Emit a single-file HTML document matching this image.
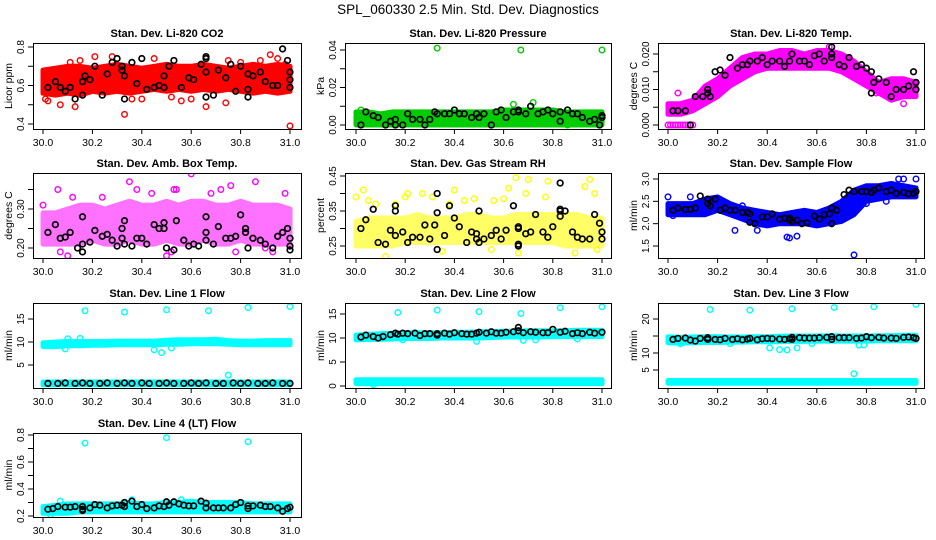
<!DOCTYPE html>
<html><head><meta charset="utf-8"><style>
html,body{margin:0;padding:0;background:#fff}
svg{display:block;font-family:"Liberation Sans",sans-serif}
</style></head><body>
<svg id="chart" width="936" height="540" viewBox="0 0 936 540" xmlns="http://www.w3.org/2000/svg">
<rect width="936" height="540" fill="#fff"/>
<text x="468" y="14" text-anchor="middle" font-size="13.5">SPL_060330  2.5 Min. Std. Dev. Diagnostics</text>
</svg>
<script>
// shared x categories (day of year bins)
const binX=[30.0,30.05,30.1,30.15,30.2,30.25,30.3,30.35,30.4,30.45,30.5,30.55,30.6,30.65,30.7,30.75,30.8,30.85,30.9,30.95,31.0];
const xTicks=[30.0,30.2,30.4,30.6,30.8,31.0];
const xTickLabels=["30.0","30.2","30.4","30.6","30.8","31.0"];

// Panel 1 CO2
const p1Lo=[0.56,0.55,0.56,0.55,0.57,0.56,0.57,0.56,0.57,0.58,0.57,0.58,0.57,0.58,0.57,0.58,0.57,0.56,0.57,0.56,0.57];
const p1Hi=[0.68,0.69,0.70,0.70,0.69,0.70,0.71,0.70,0.69,0.70,0.71,0.70,0.70,0.71,0.70,0.69,0.70,0.71,0.70,0.71,0.70];
const p1OutX=[30.13,30.07,30.33,31.0,30.28,30.75,30.92,30.95,30.74,30.15,30.45,30.21,30.02,30.56,30.88,30.66,30.01,30.98,30.40,30.6,30.11,30.36,30.52,30.8];
const p1OutY=[0.49,0.50,0.45,0.39,0.75,0.73,0.76,0.74,0.51,0.73,0.74,0.75,0.52,0.52,0.73,0.49,0.53,0.71,0.53,0.53,0.72,0.53,0.54,0.72];
const p1BkX=[30.02,30.05,30.07,30.09,30.11,30.13,30.16,30.16,30.17,30.19,30.21,30.24,30.26,30.28,30.30,30.32,30.32,30.33,30.33,30.36,30.38,30.40,30.42,30.45,30.47,30.49,30.49,30.51,30.53,30.56,30.59,30.61,30.64,30.66,30.66,30.66,30.66,30.69,30.71,30.74,30.76,30.78,30.80,30.83,30.83,30.83,30.85,30.88,30.90,30.93,30.95,30.97,30.99,31.0,31.0,31.0];
const p1BkY=[0.59,0.62,0.59,0.57,0.59,0.53,0.55,0.62,0.65,0.63,0.70,0.55,0.66,0.72,0.74,0.70,0.68,0.53,0.65,0.72,0.61,0.74,0.58,0.59,0.60,0.65,0.59,0.70,0.73,0.59,0.64,0.63,0.71,0.75,0.74,0.67,0.54,0.55,0.68,0.64,0.71,0.57,0.70,0.54,0.66,0.58,0.65,0.67,0.62,0.60,0.60,0.79,0.73,0.67,0.63,0.59];

// Panel 2 Pressure
const p2Lo=[0,0,0,0,0,0,0,0,0,0,0,0,0,0,0,0,0,0,0,0,0];
const p2Hi=[0.007,0.007,0.006,0.007,0.007,0.007,0.007,0.007,0.007,0.007,0.007,0.007,0.008,0.008,0.008,0.008,0.008,0.007,0.007,0.007,0.007];
const p2OutX=[30.33,30.67,31.0,30.72,30.64,30.86,30.68,30.02];
const p2OutY=[0.041,0.040,0.040,0.012,0.011,0.0,0.002,0.008];
const p2BkX=[30.02,30.04,30.07,30.09,30.12,30.14,30.16,30.16,30.19,30.21,30.23,30.26,30.28,30.30,30.32,30.33,30.36,30.38,30.40,30.42,30.44,30.47,30.49,30.50,30.52,30.55,30.57,30.59,30.61,30.64,30.66,30.66,30.69,30.71,30.74,30.76,30.78,30.80,30.83,30.83,30.86,30.88,30.90,30.92,30.95,30.97,30.99,31.0,31.0];
const p2BkY=[0.0,0.007,0.005,0.004,0.0,0.002,0.003,0.0,0.0,0.006,0.003,0.003,0.0,0.003,0.007,0.006,0.006,0.006,0.008,0.006,0.006,0.004,0.006,0.004,0.006,0.0,0.007,0.008,0.004,0.007,0.007,0.008,0.006,0.010,0.006,0.007,0.008,0.006,0.007,0.002,0.008,0.006,0.006,0.004,0.002,0.003,0.0,0.004,0.005];

// Panel 3 Li-820 Temp
const p3Lo=[0.003,0.003,0.004,0.006,0.008,0.011,0.013,0.015,0.016,0.016,0.016,0.016,0.016,0.016,0.015,0.013,0.011,0.009,0.007,0.008,0.008];
const p3Hi=[0.006,0.006,0.007,0.011,0.013,0.016,0.019,0.020,0.020,0.021,0.021,0.020,0.021,0.021,0.020,0.018,0.015,0.012,0.013,0.013,0.012];
const p3OutX=[30.0,30.01,30.02,30.03,30.04,30.05,30.06,30.07,30.08,30.09,30.10,30.04,30.95,30.65,30.84];
const p3OutY=[0,0,0,0,0,0,0,0,0,0,0,0.009,0.006,0.022,0.009];
const p3BkX=[30.02,30.04,30.07,30.09,30.11,30.14,30.16,30.16,30.17,30.19,30.21,30.23,30.25,30.28,30.30,30.32,30.33,30.36,30.38,30.40,30.42,30.45,30.47,30.49,30.50,30.53,30.55,30.57,30.59,30.61,30.63,30.66,30.66,30.66,30.69,30.71,30.73,30.76,30.78,30.80,30.82,30.82,30.83,30.85,30.88,30.90,30.92,30.95,30.97,30.99,31.0,31.0];
const p3BkY=[0.004,0.004,0.004,0.0,0.008,0.008,0.009,0.010,0.008,0.015,0.0155,0.014,0.019,0.016,0.017,0.017,0.018,0.018,0.019,0.017,0.018,0.018,0.0165,0.018,0.020,0.018,0.018,0.017,0.0195,0.020,0.018,0.022,0.020,0.019,0.017,0.0165,0.019,0.0165,0.017,0.016,0.015,0.009,0.012,0.013,0.012,0.008,0.010,0.010,0.011,0.015,0.012,0.010];

// Panel 4 Amb Box Temp
const p4Lo=[0.21,0.21,0.21,0.21,0.22,0.21,0.21,0.22,0.21,0.21,0.22,0.21,0.21,0.22,0.21,0.21,0.22,0.21,0.21,0.21,0.21];
const p4Hi=[0.29,0.29,0.30,0.31,0.31,0.30,0.31,0.32,0.31,0.31,0.32,0.31,0.32,0.32,0.31,0.31,0.32,0.31,0.31,0.31,0.30];
const p4OutX=[30.06,30.12,30.35,30.44,30.53,30.54,30.6,30.76,30.86,30.68,30.72,30.1,30.07,30.5,30.52,30.78,30.93,30.38,30.98,30.0,30.24,30.9];
const p4OutY=[0.35,0.33,0.37,0.34,0.35,0.35,0.39,0.36,0.37,0.34,0.35,0.18,0.19,0.18,0.19,0.19,0.19,0.35,0.34,0.31,0.33,0.20];
const p4BkX=[30.02,30.05,30.07,30.09,30.11,30.14,30.16,30.16,30.16,30.19,30.21,30.24,30.26,30.28,30.30,30.32,30.32,30.33,30.33,30.36,30.38,30.40,30.42,30.45,30.47,30.49,30.49,30.50,30.53,30.54,30.57,30.59,30.61,30.63,30.66,30.66,30.66,30.69,30.71,30.74,30.76,30.78,30.80,30.82,30.82,30.83,30.85,30.88,30.90,30.93,30.95,30.97,30.99,31.0,31.0,31.0];
const p4BkY=[0.24,0.26,0.225,0.228,0.24,0.20,0.21,0.19,0.28,0.215,0.245,0.23,0.235,0.22,0.205,0.25,0.225,0.27,0.21,0.205,0.225,0.225,0.21,0.26,0.25,0.265,0.25,0.20,0.195,0.27,0.22,0.205,0.21,0.205,0.28,0.24,0.22,0.21,0.255,0.225,0.225,0.23,0.285,0.25,0.24,0.20,0.225,0.22,0.21,0.20,0.23,0.24,0.25,0.225,0.205,0.195];

// Panel 5 Gas Stream RH
const p5Lo=[0.25,0.25,0.25,0.25,0.26,0.26,0.26,0.26,0.26,0.26,0.26,0.26,0.26,0.26,0.26,0.26,0.26,0.25,0.25,0.25,0.25];
const p5Hi=[0.32,0.33,0.33,0.33,0.33,0.34,0.33,0.33,0.33,0.34,0.34,0.33,0.33,0.34,0.34,0.34,0.34,0.34,0.34,0.33,0.33];
const p5OutX=[30.0,30.03,30.05,30.12,30.2,30.21,30.27,30.4,30.44,30.48,30.56,30.6,30.62,30.65,30.69,30.70,30.78,30.77,30.93,30.95,30.97,30.55,30.66,30.89,30.35,30.98,30.16,30.38,30.08,30.31];
const p5OutY=[0.39,0.41,0.38,0.22,0.39,0.40,0.40,0.41,0.38,0.385,0.38,0.385,0.415,0.445,0.40,0.44,0.435,0.39,0.42,0.44,0.40,0.24,0.23,0.23,0.235,0.24,0.37,0.37,0.37,0.39];
const p5BkX=[30.02,30.04,30.07,30.09,30.12,30.14,30.16,30.16,30.16,30.19,30.21,30.23,30.26,30.28,30.30,30.32,30.33,30.33,30.33,30.36,30.38,30.40,30.42,30.45,30.47,30.49,30.49,30.50,30.50,30.52,30.55,30.57,30.59,30.61,30.64,30.66,30.66,30.66,30.66,30.69,30.71,30.73,30.76,30.78,30.80,30.83,30.83,30.83,30.83,30.85,30.88,30.90,30.92,30.95,30.97,30.99,31.0,31.0];
const p5BkY=[0.30,0.325,0.355,0.26,0.255,0.295,0.365,0.35,0.28,0.29,0.26,0.275,0.275,0.31,0.27,0.31,0.40,0.345,0.24,0.28,0.365,0.33,0.305,0.26,0.29,0.285,0.27,0.26,0.35,0.27,0.28,0.295,0.27,0.295,0.365,0.305,0.30,0.255,0.25,0.285,0.29,0.34,0.29,0.275,0.305,0.43,0.355,0.35,0.335,0.35,0.29,0.275,0.27,0.27,0.34,0.315,0.29,0.27];

// Panel 6 Sample Flow
const p6Lo=[2.2,2.2,2.2,2.2,2.3,2.2,2.1,2.0,1.95,2.0,2.0,2.0,1.95,2.0,2.05,2.2,2.5,2.55,2.6,2.6,2.6];
const p6Hi=[2.45,2.45,2.45,2.55,2.6,2.45,2.35,2.3,2.25,2.2,2.25,2.3,2.25,2.35,2.5,2.75,2.85,2.85,2.9,2.85,2.8];
const p6OutX=[30.0,30.09,30.27,30.36,30.48,30.49,30.52,30.75,30.95,31.0,30.93,30.68,30.02,30.3,30.8,30.88];
const p6OutY=[2.6,2.6,1.85,1.85,1.7,1.68,1.72,1.3,3.0,3.0,3.0,2.1,2.18,2.4,2.45,2.5];
const p6BkX=[30.02,30.04,30.07,30.09,30.11,30.13,30.16,30.16,30.17,30.19,30.21,30.23,30.25,30.27,30.30,30.32,30.33,30.33,30.35,30.38,30.40,30.42,30.45,30.47,30.49,30.49,30.50,30.52,30.54,30.56,30.59,30.61,30.63,30.65,30.66,30.66,30.68,30.71,30.73,30.75,30.78,30.80,30.82,30.83,30.85,30.88,30.90,30.92,30.95,30.97,30.99,31.0];
const p6BkY=[2.3,2.35,2.32,2.32,2.35,2.62,2.55,2.45,2.4,2.55,2.3,2.35,2.3,2.3,2.25,2.25,2.03,2.22,2.0,2.15,2.15,2.22,2.1,2.12,2.12,2.08,2.05,2.08,2.0,2.02,2.17,2.1,2.2,2.22,2.35,2.0,2.3,2.65,2.75,2.72,2.72,2.72,2.7,2.75,2.8,2.72,2.75,2.68,2.7,2.67,2.68,2.72];

// Panel 7 Line 1 Flow
const p7Lo=[9.0,9.0,9.2,9.2,9.3,9.3,9.4,9.4,9.4,9.4,9.5,9.5,9.6,9.6,9.6,9.5,9.4,9.4,9.4,9.4,9.4];
const p7Hi=[9.8,10.0,10.1,10.1,10.1,10.1,10.2,10.2,10.2,10.2,10.4,10.5,10.5,10.5,10.6,10.3,10.2,10.2,10.3,10.3,10.3];
const p7Lo2=[0.7,0.7,0.7,0.7,0.7,0.7,0.7,0.7,0.7,0.7,0.7,0.7,0.7,0.7,0.7,0.7,0.7,0.7,0.7,0.7,0.7];
const p7Hi2=[1.3,1.3,1.3,1.3,1.3,1.3,1.3,1.3,1.3,1.3,1.3,1.3,1.3,1.3,1.3,1.3,1.3,1.3,1.3,1.3,1.3];
const p7OutX=[30.17,30.33,30.5,30.67,30.83,31.0,30.75,30.45,30.48,30.52,30.09,30.10,30.15];
const p7OutY=[16.8,16.5,17.0,16.8,17.5,17.7,2.8,8.3,7.7,8.7,8.5,10.7,10.8];
const p7BkX=[30.02,30.06,30.09,30.13,30.16,30.19,30.23,30.26,30.30,30.33,30.36,30.40,30.43,30.47,30.50,30.53,30.57,30.60,30.63,30.66,30.70,30.73,30.77,30.80,30.83,30.87,30.90,30.93,30.97,31.0];
const p7BkY=[1.0,1.0,1.1,1.0,1.1,1.0,1.0,1.1,1.0,1.1,1.0,1.1,1.0,1.0,1.1,1.0,1.0,1.1,1.0,1.1,1.0,1.0,1.1,1.0,1.1,1.0,1.0,1.1,1.0,1.0];

// Panel 8 Line 2 Flow
const p8Lo=[9.6,9.7,9.7,9.8,9.9,9.9,9.9,10.0,10.0,10.0,10.0,10.1,10.2,10.2,10.2,10.2,10.3,10.3,10.3,10.3,10.3];
const p8Hi=[10.6,10.8,10.9,11.0,11.1,11.1,11.1,11.1,11.2,11.2,11.3,11.3,11.4,11.4,11.5,11.5,11.5,11.5,11.6,11.6,11.6];
const p8Lo2=[0.5,0.5,0.5,0.5,0.5,0.5,0.5,0.5,0.5,0.5,0.5,0.5,0.5,0.5,0.5,0.5,0.5,0.5,0.5,0.5,0.5];
const p8Hi2=[1.3,1.3,1.3,1.3,1.3,1.3,1.3,1.3,1.3,1.3,1.3,1.3,1.3,1.3,1.3,1.3,1.3,1.3,1.3,1.3,1.3];
const p8OutX=[30.17,30.33,30.5,30.67,30.83,31.0,30.49,30.68,30.73,30.9,30.19,30.07];
const p8OutY=[15.3,15.8,15.5,15.1,16.3,16.5,9.3,9.5,9.6,9.8,9.6,0.3];
const p8BkX=[30.02,30.04,30.07,30.09,30.11,30.14,30.16,30.17,30.19,30.21,30.24,30.26,30.28,30.30,30.33,30.33,30.36,30.38,30.40,30.43,30.45,30.47,30.49,30.50,30.53,30.55,30.57,30.59,30.61,30.64,30.66,30.66,30.68,30.71,30.73,30.76,30.78,30.80,30.83,30.85,30.88,30.90,30.92,30.95,30.97,31.0];
const p8BkY=[10.2,10.6,10.3,10.0,10.3,10.7,11.0,10.8,11.0,10.9,11.0,10.5,10.9,10.9,10.6,10.9,11.0,10.8,11.1,10.9,10.8,10.8,11.0,11.2,11.0,11.3,11.0,11.0,11.2,11.3,12.2,11.5,11.1,11.3,11.2,11.1,11.1,11.8,11.2,11.4,10.9,11.1,10.9,11.2,11.0,11.2];

// Panel 9 Line 3 Flow
const p9Lo=[13.0,12.9,13.0,13.1,13.1,13.2,13.2,13.3,13.3,13.3,13.4,13.4,13.5,13.5,13.5,13.5,13.5,13.6,13.6,13.6,13.6];
const p9Hi=[14.8,14.6,14.7,14.8,14.8,14.7,14.7,14.8,14.8,14.9,15.0,15.0,15.0,15.1,15.0,15.0,15.0,15.1,15.1,15.2,15.2];
const p9Lo2=[1.1,1.1,1.1,1.1,1.1,1.1,1.1,1.1,1.1,1.1,1.1,1.1,1.1,1.1,1.1,1.1,1.1,1.1,1.1,1.1,1.1];
const p9Hi2=[1.9,1.9,1.9,1.9,1.9,1.9,1.9,1.9,1.9,1.9,1.9,1.9,1.9,1.9,1.9,1.9,1.9,1.9,1.9,1.9,1.9];
const p9OutX=[30.17,30.33,30.5,30.67,30.83,31.0,30.75,30.41,30.45,30.48,30.52,30.77,30.79,30.58,30.25,30.05];
const p9OutY=[22.8,22.6,23.0,23.4,23.6,24.3,3.9,11.5,11.0,10.9,11.5,12.3,12.4,12.8,12.8,12.7];
const p9BkX=[30.02,30.04,30.07,30.09,30.11,30.13,30.16,30.16,30.19,30.21,30.23,30.26,30.28,30.30,30.32,30.33,30.36,30.38,30.40,30.42,30.45,30.47,30.49,30.50,30.50,30.53,30.55,30.57,30.59,30.61,30.64,30.66,30.66,30.69,30.71,30.73,30.76,30.78,30.80,30.82,30.85,30.87,30.90,30.92,30.95,30.97,30.99,31.0];
const p9BkY=[14.0,14.3,14.4,13.8,13.5,14.3,14.5,14.0,14.0,13.9,14.3,14.0,14.2,13.9,14.1,14.3,13.9,14.2,14.3,14.2,14.1,14.0,14.2,14.6,14.0,14.5,14.4,14.4,14.4,14.5,14.6,14.8,14.0,14.5,14.5,14.5,14.3,14.4,14.8,14.5,14.6,14.4,14.4,14.3,14.6,14.7,14.5,14.3];

// Panel 10 Line 4 (LT) Flow
const p10Lo=[0.22,0.22,0.22,0.23,0.23,0.23,0.23,0.23,0.23,0.23,0.23,0.23,0.23,0.23,0.23,0.23,0.23,0.23,0.23,0.23,0.23];
const p10Hi=[0.27,0.28,0.29,0.29,0.29,0.29,0.29,0.30,0.29,0.29,0.30,0.30,0.31,0.30,0.30,0.30,0.30,0.29,0.29,0.29,0.29];
const p10OutX=[30.17,30.5,30.83,30.56,30.07,30.03,30.36];
const p10OutY=[0.74,0.78,0.75,0.32,0.31,0.21,0.32];
const p10BkX=[30.02,30.04,30.06,30.09,30.11,30.13,30.16,30.16,30.16,30.19,30.21,30.23,30.26,30.28,30.30,30.32,30.33,30.33,30.36,30.38,30.40,30.42,30.45,30.47,30.49,30.50,30.51,30.53,30.55,30.57,30.59,30.61,30.64,30.66,30.66,30.69,30.71,30.73,30.76,30.78,30.80,30.83,30.83,30.85,30.88,30.90,30.92,30.95,30.97,30.99,31.0];
const p10BkY=[0.25,0.255,0.27,0.265,0.265,0.27,0.25,0.27,0.24,0.26,0.285,0.28,0.26,0.275,0.28,0.28,0.30,0.27,0.31,0.27,0.285,0.255,0.26,0.275,0.27,0.305,0.28,0.305,0.29,0.28,0.275,0.275,0.31,0.295,0.26,0.26,0.26,0.26,0.26,0.285,0.30,0.275,0.255,0.275,0.28,0.27,0.27,0.26,0.235,0.255,0.265];

const svg=document.getElementById('chart');
const NS='http://www.w3.org/2000/svg';
function mk(tag,attrs,parent){const e=document.createElementNS(NS,tag);for(const k in attrs)e.setAttribute(k,attrs[k]);(parent||svg).appendChild(e);return e;}

const cols=[{l:33,r:301,x0:43,x1:290},{l:345,r:611,x0:356,x1:602},{l:658,r:924,x0:668,x1:916}];
const rows=[{t:43,b:129},{t:173,b:258},{t:303,b:388},{t:433,b:517}];

const panels=[
 {c:0,r:0,title:"Stan. Dev. Li-820 CO2",ylab:"Licor ppm",col:"#ff0000",op:1,vA:0.8,pA:47,vB:0.4,pB:124,ticks:[0.4,0.5,0.6,0.7,0.8],labs:{"0.4":"0.4","0.6":"0.6","0.8":"0.8"},lo:p1Lo,hi:p1Hi,ox:p1OutX,oy:p1OutY,bx:p1BkX,by:p1BkY},
 {c:1,r:0,title:"Stan. Dev. Li-820 Pressure",ylab:"kPa",col:"#00cc00",op:1,vA:0.04,pA:50,vB:0,pB:125,ticks:[0,0.01,0.02,0.03,0.04],labs:{"0":"0.00","0.02":"0.02","0.04":"0.04"},lo:p2Lo,hi:p2Hi,ox:p2OutX,oy:p2OutY,bx:p2BkX,by:p2BkY},
 {c:2,r:0,title:"Stan. Dev. Li-820 Temp.",ylab:"degrees C",col:"#ff00ff",op:1,vA:0.02,pA:54,vB:0,pB:125,ticks:[0,0.005,0.01,0.015,0.02],labs:{"0":"0.000","0.01":"0.010","0.02":"0.020"},lo:p3Lo,hi:p3Hi,ox:p3OutX,oy:p3OutY,bx:p3BkX,by:p3BkY},
 {c:0,r:1,title:"Stan. Dev. Amb. Box Temp.",ylab:"degrees C",col:"#ff00ff",op:0.55,vA:0.30,pA:209,vB:0.20,pB:248,ticks:[0.20,0.25,0.30,0.35],labs:{"0.2":"0.20","0.3":"0.30"},lo:p4Lo,hi:p4Hi,ox:p4OutX,oy:p4OutY,bx:p4BkX,by:p4BkY},
 {c:1,r:1,title:"Stan. Dev. Gas Stream RH",ylab:"percent",col:"#ffff00",op:0.6,vA:0.45,pA:176,vB:0.25,pB:246,ticks:[0.25,0.30,0.35,0.40,0.45],labs:{"0.25":"0.25","0.35":"0.35","0.45":"0.45"},lo:p5Lo,hi:p5Hi,ox:p5OutX,oy:p5OutY,bx:p5BkX,by:p5BkY},
 {c:2,r:1,title:"Stan. Dev. Sample Flow",ylab:"ml/min",col:"#0000ff",op:1,vA:3.0,pA:179,vB:1.5,pB:246,ticks:[1.5,2.0,2.5,3.0],labs:{"1.5":"1.5","2":"2.0","2.5":"2.5","3":"3.0"},lo:p6Lo,hi:p6Hi,ox:p6OutX,oy:p6OutY,bx:p6BkX,by:p6BkY},
 {c:0,r:2,title:"Stan. Dev. Line 1 Flow",ylab:"ml/min",col:"#00ffff",op:1,vA:15,pA:319,vB:5,pB:365,ticks:[5,10,15],labs:{"5":"5","10":"10","15":"15"},lo:p7Lo,hi:p7Hi,lo2:p7Lo2,hi2:p7Hi2,ox:p7OutX,oy:p7OutY,bx:p7BkX,by:p7BkY},
 {c:1,r:2,title:"Stan. Dev. Line 2 Flow",ylab:"ml/min",col:"#00ffff",op:1,vA:15,pA:314,vB:0,pB:386,ticks:[0,5,10,15],labs:{"0":"0","5":"5","10":"10","15":"15"},lo:p8Lo,hi:p8Hi,lo2:p8Lo2,hi2:p8Hi2,ox:p8OutX,oy:p8OutY,bx:p8BkX,by:p8BkY},
 {c:2,r:2,title:"Stan. Dev. Line 3 Flow",ylab:"ml/min",col:"#00ffff",op:1,vA:20,pA:319,vB:5,pB:370,ticks:[5,10,15,20],labs:{"5":"5","10":"10","20":"20"},lo:p9Lo,hi:p9Hi,lo2:p9Lo2,hi2:p9Hi2,ox:p9OutX,oy:p9OutY,bx:p9BkX,by:p9BkY},
 {c:0,r:3,title:"Stan. Dev. Line 4 (LT) Flow",ylab:"ml/min",col:"#00ffff",op:1,vA:0.8,pA:435,vB:0.2,pB:516,ticks:[0.2,0.3,0.4,0.5,0.6,0.7,0.8],labs:{"0.2":"0.2","0.4":"0.4","0.6":"0.6","0.8":"0.8"},lo:p10Lo,hi:p10Hi,ox:p10OutX,oy:p10OutY,bx:p10BkX,by:p10BkY}
];

panels.forEach((p,i)=>{
 const C=cols[p.c],R=rows[p.r];
 const xs=v=>C.x0+(v-30)*(C.x1-C.x0);
 const ys=v=>p.pB+(v-p.vB)*(p.pA-p.pB)/(p.vA-p.vB);
 const g=mk('g',{});
 
 
 const clipId='clip'+i;
 const cp=mk('clipPath',{id:clipId},g);
 mk('rect',{x:C.l,y:R.t,width:C.r-C.l,height:R.b-R.t},cp);
 const pl=mk('g',{'clip-path':'url(#'+clipId+')'},g);
 function band(lo,hi,name){
  let pts=binX.map((x,k)=>xs(x).toFixed(1)+','+ys(hi[k]).toFixed(1));
  for(let k=binX.length-1;k>=0;k--)pts.push(xs(binX[k]).toFixed(1)+','+ys(lo[k]).toFixed(1));
  const b=mk('polygon',{points:pts.join(' '),fill:p.col,stroke:p.col,'stroke-width':5,'stroke-linejoin':'round',opacity:p.op},pl);
  
  
 }
 band(p.lo,p.hi,'main-band');
 if(p.lo2)band(p.lo2,p.hi2,'low-band');
 p.ox.forEach((x,k)=>{
  const c=mk('circle',{cx:xs(x),cy:ys(p.oy[k]),r:2.8,fill:'none',stroke:p.col,'stroke-width':1.4},pl);
  
  
 });
 p.bx.forEach((x,k)=>{
  const c=mk('circle',{cx:xs(x),cy:ys(p.by[k]),r:2.8,fill:'none',stroke:'#000','stroke-width':1.7},pl);
  
  
 });
 const box=mk('rect',{x:C.l+0.5,y:R.t+0.5,width:C.r-C.l,height:R.b-R.t,fill:'none',stroke:'#000','stroke-width':1},g);
 
 
 xTicks.forEach((v,k)=>{
  const x=xs(v);
  mk('line',{x1:x,x2:x,y1:R.b,y2:R.b+5,stroke:'#000'},g);
  const t=mk('text',{x:x,y:R.b+17,'text-anchor':'middle','font-size':10.5},g);
  t.textContent=xTickLabels[k];
  
  
 });
 p.ticks.forEach(v=>{
  const y=ys(v);
  mk('line',{x1:C.l-5,x2:C.l,y1:y,y2:y,stroke:'#000'},g);
  const key=String(+v.toFixed(4));
  if(p.labs[key]!==undefined){
   const tx=C.l-9;
   const t=mk('text',{x:tx,y:y,'text-anchor':'middle','font-size':10,transform:'rotate(-90 '+tx+' '+y+')'},g);
   t.textContent=p.labs[key];
   
   
  }
 });
 const my=(R.t+R.b)/2, lx=C.l-21;
 const yl=mk('text',{x:lx,y:my,'text-anchor':'middle','font-size':10.5,transform:'rotate(-90 '+lx+' '+my+')'},g);
 yl.textContent=p.ylab;
 
 
 const tt=mk('text',{x:(C.l+C.r)/2,y:R.t-6,'text-anchor':'middle','font-size':11,'font-weight':'bold'},g);
 tt.textContent=p.title;
 
 
});
</script>
</body></html>
